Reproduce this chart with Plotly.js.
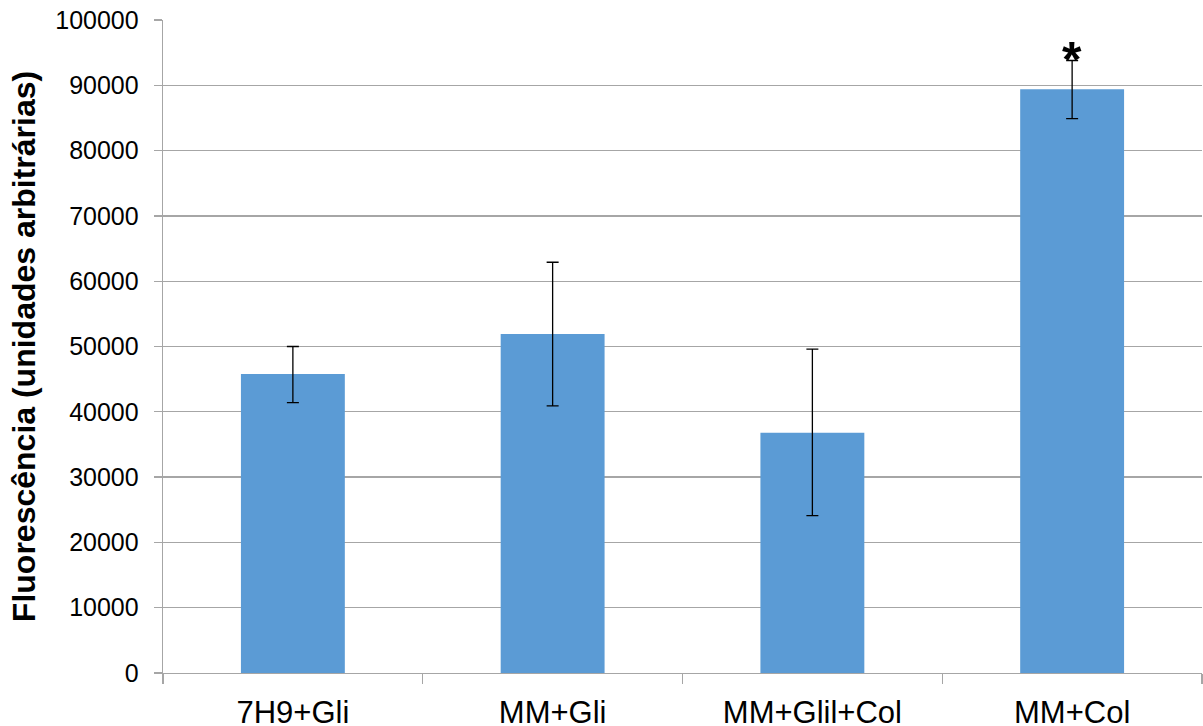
<!DOCTYPE html>
<html>
<head>
<meta charset="utf-8">
<script src="https://cdn.plot.ly/plotly-3.0.1.min.js"></script>
<style>html,body{margin:0;padding:0;background:#fff;}#chart{width:1203px;height:726px;}</style>
</head>
<body>
<div id="chart"></div>
<script>
const categories = ["7H9+Gli", "MM+Gli", "MM+Glil+Col", "MM+Col"];
const values = [45800, 51900, 36800, 89400];
const errPlus = [4200, 11000, 12800, 4400];
const errMinus = [4400, 11000, 12700, 4500];
const yTicks = [0, 10000, 20000, 30000, 40000, 50000, 60000, 70000, 80000, 90000, 100000];
const markerText = ["", "", "", "*"];
const markerY = [null, null, null, 93800];

const trace = {
  type: "bar",
  x: categories,
  y: values,
  marker: {color: "#5B9BD5"},
  error_y: {type: "data", symmetric: false, array: errPlus, arrayminus: errMinus,
            color: "#000000", thickness: 1.3, width: 6},
  hoverinfo: "none"
};

const annotations = categories.map((c, i) => markerText[i] ? {
  x: c, y: markerY[i], text: "<b>" + markerText[i] + "</b>", showarrow: false,
  font: {family: "Liberation Sans, Arial, sans-serif", size: 50, color: "#000"},
  xanchor: "center", yanchor: "middle"
} : null).filter(a => a);

const layout = {
  width: 1203, height: 726,
  margin: {l: 163, r: 1, t: 20, b: 53},
  paper_bgcolor: "#fff", plot_bgcolor: "#fff",
  bargap: 0.6,
  showlegend: false,
  font: {family: "Liberation Sans, Arial, sans-serif", color: "#000"},
  xaxis: {
    type: "category",
    tickson: "boundaries",
    ticks: "outside", ticklen: 10, tickcolor: "#A6A6A6", tickwidth: 1.3,
    showline: true, linecolor: "#A6A6A6", linewidth: 1.3,
    showgrid: false,
    tickfont: {size: 31, color: "#000"},
    ticklabelstandoff: 11,
    fixedrange: true
  },
  yaxis: {
    range: [0, 100000],
    tickvals: yTicks,
    ticktext: yTicks.map(String),
    ticks: "outside", ticklen: 8, tickcolor: "#A6A6A6", tickwidth: 1.3,
    showline: true, linecolor: "#A6A6A6", linewidth: 1.3,
    showgrid: true, gridcolor: "#A6A6A6", gridwidth: 1.3,
    zeroline: false,
    tickfont: {size: 25, color: "#000"},
    ticklabelstandoff: 10,
    title: {text: "<b>Fluorescência (unidades arbitrárias)</b>", font: {size: 32, color: "#000"}, standoff: 10},
    fixedrange: true
  },
  annotations: annotations
};

Plotly.newPlot("chart", [trace], layout, {displayModeBar: false, staticPlot: true});
</script>
</body>
</html>
